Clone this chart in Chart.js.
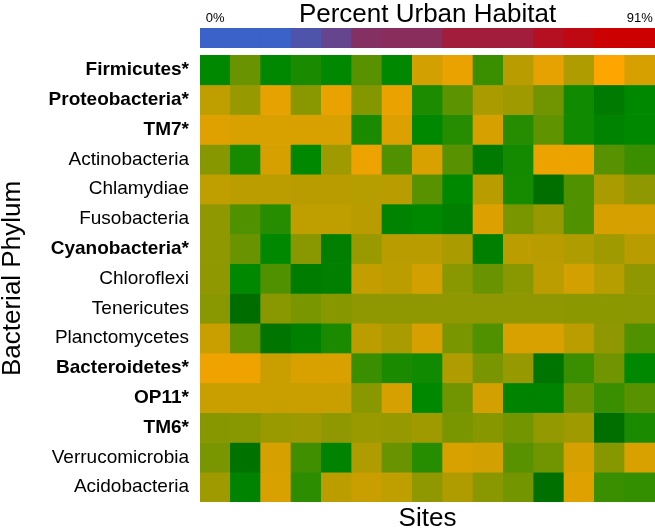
<!DOCTYPE html>
<html>
<head>
<meta charset="utf-8">
<script src="https://cdn.jsdelivr.net/npm/chart.js@4"></script>
<style>
  body { margin: 0; background: #fff; }
  #wrap { position: relative; width: 655px; height: 532px; }
  #legendTitle {
    position: absolute; left: 200px; top: 0; width: 455px;
    text-align: center; font: 26px "Liberation Sans", Arial, sans-serif;
    line-height: 26px; color: #000;
  }
  #topBox { position: absolute; left: 0; top: 0; width: 655px; height: 50px; }
  #mainBox { position: absolute; left: 0; top: 50px; width: 655px; height: 482px; }
</style>
</head>
<body>
<div id="wrap">
  <div id="topBox"><canvas id="urbanChart" width="655" height="50"></canvas></div>
  <div id="legendTitle">Percent Urban Habitat</div>
  <div id="mainBox"><canvas id="heatChart" width="655" height="482"></canvas></div>
</div>
<script>
var sites = ['Site 1', 'Site 2', 'Site 3', 'Site 4', 'Site 5', 'Site 6', 'Site 7', 'Site 8',
             'Site 9', 'Site 10', 'Site 11', 'Site 12', 'Site 13', 'Site 14', 'Site 15'];

// percent urban habitat around each site (0% .. 91%)
var urbanPct = [0, 0, 0, 13, 27, 46, 49, 49, 64, 64, 64, 76, 83, 91, 91];

var phyla = ['Firmicutes*', 'Proteobacteria*', 'TM7*', 'Actinobacteria', 'Chlamydiae',
             'Fusobacteria', 'Cyanobacteria*', 'Chloroflexi', 'Tenericutes', 'Planctomycetes',
             'Bacteroidetes*', 'OP11*', 'TM6*', 'Verrucomicrobia', 'Acidobacteria'];

// relative abundance score per phylum (rows) and site (columns), 0 = low .. 100 = high
var firmicutes      = [20, 53, 20, 28, 20, 48, 20, 86, 93, 38, 78, 92, 75, 100, 87];
var proteobacteria  = [80, 67, 92, 63, 93, 61, 93, 29, 49, 73, 70, 55, 25, 12, 20];
var tm7             = [90, 88, 88, 88, 88, 28, 89, 20, 32, 87, 32, 50, 25, 18, 20];
var actinobacteria  = [62, 27, 87, 20, 70, 94, 45, 88, 48, 13, 26, 94, 94, 48, 38];
var chlamydiae      = [80, 79, 79, 78, 78, 77, 78, 48, 20, 78, 27, 6, 45, 73, 65];
var fusobacteria    = [65, 45, 32, 80, 80, 78, 17, 20, 15, 89, 58, 67, 45, 87, 87];
var cyanobacteria   = [65, 53, 20, 63, 15, 68, 78, 78, 73, 15, 79, 78, 75, 70, 78];
var chloroflexi     = [65, 20, 45, 14, 15, 81, 79, 86, 63, 53, 63, 79, 86, 77, 65];
var tenericutes     = [63, 5, 63, 58, 62, 65, 65, 65, 65, 65, 65, 65, 64, 64, 64];
var planctomycetes  = [83, 51, 10, 15, 28, 79, 73, 87, 58, 45, 88, 88, 79, 65, 45];
var bacteroidetes   = [95, 95, 83, 88, 88, 38, 28, 25, 75, 58, 67, 9, 38, 55, 20];
var op11            = [83, 83, 83, 83, 83, 63, 87, 20, 55, 86, 18, 17, 53, 38, 48];
var tm6             = [62, 63, 68, 69, 65, 68, 67, 70, 58, 62, 56, 66, 70, 6, 28];
var verrucomicrobia = [58, 8, 87, 40, 17, 75, 53, 32, 88, 86, 48, 55, 87, 62, 88];
var acidobacteria   = [70, 18, 88, 34, 79, 83, 80, 65, 75, 63, 56, 7, 90, 38, 36];

var abundance = [firmicutes, proteobacteria, tm7, actinobacteria, chlamydiae, fusobacteria,
                 cyanobacteria, chloroflexi, tenericutes, planctomycetes, bacteroidetes,
                 op11, tm6, verrucomicrobia, acidobacteria];

var FONT = '"Liberation Sans", Arial, sans-serif';

function mix(a, b, t) {
    return 'rgb(' + Math.round(a[0] + (b[0] - a[0]) * t) + ',' +
                    Math.round(a[1] + (b[1] - a[1]) * t) + ',' +
                    Math.round(a[2] + (b[2] - a[2]) * t) + ')';
}

// dark green -> green -> olive -> orange
function heatColor(v) {
    if (v < 20) return mix([0, 100, 0], [0, 136, 0], v / 20);
    return mix([0, 136, 0], [255, 165, 0], (v - 20) / 80);
}

// blue -> red
function urbanColor(p) {
    return mix([58, 98, 200], [204, 0, 0], p / 91);
}

// top colour strip
var urbanChart = new Chart(document.getElementById('urbanChart').getContext('2d'), {
    type: 'bar',
    data: {
        labels: sites,
        datasets: [{
            data: urbanPct.map(function() { return [0, 1]; }),
            backgroundColor: urbanPct.map(urbanColor),
            borderWidth: 0,
            barPercentage: 1,
            categoryPercentage: 1
        }]
    },
    options: {
        responsive: false,
        animation: false,
        layout: { padding: { left: 200, right: 0, top: 8.4, bottom: 2 } },
        plugins: { legend: { display: false }, tooltip: { enabled: false } },
        scales: {
            x: {
                position: 'top',
                grid: { display: false, drawTicks: false },
                border: { display: false },
                ticks: {
                    autoSkip: false,
                    maxRotation: 0,
                    padding: 2,
                    color: '#000',
                    font: { family: FONT, size: 13 },
                    callback: function(value, index) {
                        if (index === 0) return urbanPct[0] + '%';
                        if (index === urbanPct.length - 1) return urbanPct[index] + '%';
                        return '';
                    }
                }
            },
            y: { display: false, min: 0, max: 1 }
        }
    }
});

// heatmap
var heatChart = new Chart(document.getElementById('heatChart').getContext('2d'), {
    type: 'bar',
    data: {
        labels: sites,
        datasets: phyla.map(function(name, r) {
            return {
                label: name,
                data: sites.map(function() { return [r, r + 1]; }),
                backgroundColor: function(ctx) { return heatColor(abundance[r][ctx.dataIndex]); },
                borderWidth: 0,
                barPercentage: 1,
                categoryPercentage: 1
            };
        })
    },
    options: {
        responsive: false,
        animation: false,
        layout: { padding: { left: 0, right: 0, top: 5, bottom: 0 } },
        plugins: { legend: { display: false }, tooltip: { enabled: false } },
        scales: {
            x: {
                stacked: true,
                grid: { display: false, drawTicks: false },
                border: { display: false },
                ticks: { display: false },
                title: {
                    display: true,
                    text: 'Sites',
                    color: '#000',
                    padding: { top: 4, bottom: 0 },
                    font: { family: FONT, size: 26, lineHeight: 1 }
                }
            },
            y: {
                min: 0,
                max: phyla.length,
                reverse: true,
                grid: { display: false, drawTicks: false },
                border: { display: false },
                afterFit: function(scale) {
                    scale.width = 200;
                    scale.paddingTop = 0;
                    scale.paddingBottom = 0;
                },
                afterBuildTicks: function(scale) {
                    scale.ticks = phyla.map(function(_, i) { return { value: i + 0.5 }; });
                },
                ticks: {
                    autoSkip: false,
                    padding: 11,
                    color: '#000',
                    font: function(ctx) {
                        var bold = phyla[ctx.index] && phyla[ctx.index].slice(-1) === '*';
                        return { family: FONT, size: 19, weight: bold ? 'bold' : 'normal' };
                    },
                    callback: function(value, index) { return phyla[index]; }
                },
                title: {
                    display: true,
                    text: 'Bacterial Phylum',
                    color: '#000',
                    padding: 0,
                    font: { family: FONT, size: 26, lineHeight: 1 }
                }
            }
        }
    }
});
</script>
</body>
</html>
